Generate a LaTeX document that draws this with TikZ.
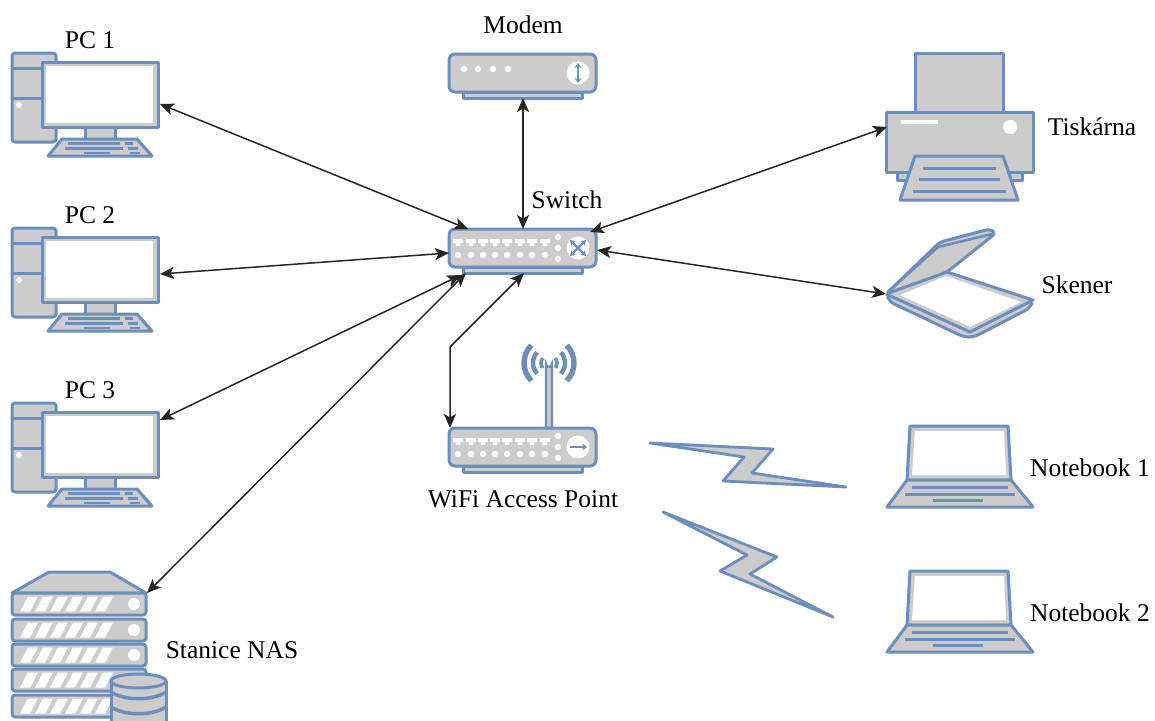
\documentclass[tikz,border=0pt]{standalone}
\usepackage{fontspec}
\setmainfont{Liberation Serif}
\usetikzlibrary{arrows.meta}
\definecolor{iconblue}{HTML}{6C8EBF}
\definecolor{icongray}{HTML}{CCCCCC}
\tikzset{
  x=1pt,y=-1pt,
  ico/.style={draw=iconblue,fill=icongray,line width=3pt,line join=round},
  icoline/.style={draw=iconblue,line width=3pt,line cap=round},
  lbl/.style={font=\fontsize{25.5}{30}\selectfont,text=black,inner sep=0pt},
  link/.style={draw=black!85,line width=1.5pt,{Stealth[length=14pt,width=12pt,inset=3.5pt]}-{Stealth[length=14pt,width=12pt,inset=3.5pt]}},
  pcicon/.pic={
    \draw[ico,rounded corners=3pt] (12,53) rectangle (56,142);
    \draw[icoline] (12,68)--(42,68) (12,98)--(42,98);
    \fill[white] (19,105) circle (3);
    \draw[ico] (85,127) rectangle (115,139);
    \draw[ico] (62,139)--(137,139)--(152,156)--(48,156)--cycle;
    \draw[iconblue,line width=2.4pt] (68,143.5)--(120,143.5) (125,143.5)--(133,143.5)
      (65,148.5)--(123,148.5) (128,148.5)--(138,148.5)
      (84,153)--(110,153) (130,153)--(140,153);
    \draw[ico] (42,62) rectangle (158,127);
    \fill[white] (46,66) rectangle (153,122.5);
  },
  boxbody/.pic={
    \draw[ico] (14,38) rectangle (133,44);
    \draw[ico,rounded corners=6pt] (0,0) rectangle (147,38);
  },
  portrow/.pic={
    \foreach \px in {9,22,34,46,58,71,83,96}{
      \fill[white] (\px-5,10) -- (\px+5,10) -- (\px+5,14) -- (\px+2.5,14) -- (\px+2,17) -- (\px-2,17) -- (\px-2.5,14) -- (\px-5,14) -- cycle;
      \fill[white] (\px,26) circle (3.2);
    }
    \fill[white] (109,8) circle (3.2) (109,19) circle (3.2) (109,30) circle (3.2);
    \fill[white] (129,19) circle (11.5);
  },
  laptopicon/.pic={
    \draw[ico] (910,426)--(1008,426)--(1011,480)--(907,480)--cycle;
    \fill[white] (915,431)--(1004,431)--(1006,475)--(912,475)--cycle;
    \draw[ico] (907,480)--(1011,480)--(1033,507)--(887,507)--cycle;
    \draw[iconblue,line width=3pt] (912,487)--(1008,487) (905,494)--(1015,494) (933,500.5)--(983,500.5);
  },
  nasunit/.pic={
    \draw[ico,rounded corners=3pt] (12,0) rectangle (146,22);
    \foreach \sx in {20,35,50,65,80,95}{
      \fill[white] (\sx,18.5)--(\sx+8,3.5)--(\sx+18,3.5)--(\sx+10,18.5)--cycle;
    }
  },
  nasdot/.pic={\fill[white] (134,11) circle (6);}
}
\begin{document}
\begin{tikzpicture}
\useasboundingbox (0,0) rectangle (1155,720);
\fill[white] (0,0) rectangle (1155,720);

% PCs
\pic at (0,0) {pcicon};
\pic at (0,175) {pcicon};
\pic at (0,350) {pcicon};

% NAS
\draw[ico] (12,593)--(49,572)--(110,572)--(146,593)--cycle;
\pic at (0,593) {nasunit};
\pic at (0,593) {nasdot};
\pic at (0,619) {nasunit};
\pic at (0,619) {nasdot};
\pic at (0,644) {nasunit};
\pic at (0,644) {nasdot};
\pic at (0,669) {nasunit};
\pic at (0,695) {nasunit};
\begin{scope}
  \clip (0,0) rectangle (1155,720);
  \draw[ico] (111,681) -- (111,730) -- (166,730) -- (166,681);
  \draw[ico] (138.5,681) ellipse [x radius=27.5,y radius=7];
  \draw[icoline,line width=3.5pt] (111,692) .. controls (125,701) and (152,701) .. (166,692);
  \draw[icoline,line width=3.5pt] (111,707) .. controls (125,716) and (152,716) .. (166,707);
\end{scope}

% Modem
\pic at (449,54) {boxbody};
\fill[white] (464,69) circle (3.2) (478,69) circle (3.2) (493,69) circle (3.2) (508,69) circle (3.2);
\fill[white] (578,73) circle (11.5);
\draw[iconblue,line width=2.6pt,{Stealth[length=5pt,width=7pt]}-{Stealth[length=5pt,width=7pt]}] (578,63)--(578,83);

% Switch
\pic at (449,229) {boxbody};
\pic at (449,229) {portrow};
\draw[iconblue,line width=2.2pt,{Stealth[length=5pt,width=6pt]}-{Stealth[length=5pt,width=6pt]}] (570,240)--(586,256);
\draw[iconblue,line width=2.2pt,{Stealth[length=5pt,width=6pt]}-{Stealth[length=5pt,width=6pt]}] (586,240)--(570,256);

% Access point
\draw[draw=iconblue,fill=icongray,line width=2.4pt] (546,428) -- (546,364) arc[start angle=180,end angle=0,radius=3] -- (552,428) -- cycle;
\foreach \rad/\wid/\spn in {8/3.6/38,16/4.4/42,25/5.4/45}{
  \draw[iconblue,line width=\wid pt] (549,363) ++(\spn:\rad) arc[start angle=\spn,end angle=-\spn,radius=\rad];
  \draw[iconblue,line width=\wid pt] (549,363) ++(180-\spn:\rad) arc[start angle=180-\spn,end angle=180+\spn,radius=\rad];
}
\pic at (449,428) {boxbody};
\pic at (449,428) {portrow};
\draw[iconblue,line width=2.6pt,-{Stealth[length=5pt,width=7pt]}] (570,447)--(587,447);

% Printer
\draw[ico] (915,53) rectangle (1003,112);
\draw[ico] (897,172) rectangle (1022,180);
\draw[ico] (886,112) rectangle (1033,172);
\fill[white] (901,120) rectangle (938,124);
\fill[white] (1010,127) circle (7);
\draw[ico] (915,156)--(1003,156)--(1018,200)--(900,200)--cycle;
\draw[iconblue,line width=3pt] (923,168)--(996,168) (919,179.5)--(1000,179.5) (913,191)--(1006,191);

% Scanner
\draw[ico,rounded corners=5pt] (886,294)--(890,302)--(964,337)--(974,337)--(1030,308)--(1033,300)--cycle;
\fill[icongray] (886,294)--(947,272)--(1033,300)--(970,332)--cycle;
\fill[white] (900,295)--(946,276)--(1021,302)--(970,327)--cycle;
\draw[iconblue,line width=3pt,line join=round] (886,294)--(970,332)--(1033,300)--(947,272);
\draw[ico,rounded corners=4pt] (886,294)--(940,242)--(990,229)--(996,233)--(947,272)--cycle;
\draw[iconblue,line width=2.6pt,line join=round] (889,291)--(938,247)--(992,234);

% Lightning bolts
\draw[ico,miter limit=20,line width=2.8pt] (650,443)--(773,449)--(752,473)--(846,487)--(723,481)--(744,457)--cycle;
\draw[ico,miter limit=20,line width=2.8pt] (663,512)--(777,557)--(750,574)--(833,617)--(720,571)--(747,555)--cycle;

% Notebooks
\pic at (0,0) {laptopicon};
\pic at (0,145) {laptopicon};

% Connector ends
\coordinate (pc1port) at (160,104);
\coordinate (pc2port) at (160,274);
\coordinate (pc3port) at (160,420);
\coordinate (nasport) at (147,593);
\coordinate (modemport) at (523,98);
\coordinate (printerport) at (887,127);
\coordinate (scannerport) at (886,294);
\coordinate (appport) at (450,428);
\coordinate (apbend) at (450,347);
\coordinate (swpc1) at (468,229);
\coordinate (swpc2) at (449,253);
\coordinate (swpc3) at (461,275);
\coordinate (swnas) at (466,273);
\coordinate (swtop) at (523,229);
\coordinate (swprinter) at (590,232);
\coordinate (swscanner) at (597,250);
\coordinate (swap) at (524,273);

\draw[link] (pc1port) -- (swpc1);
\draw[link] (pc2port) -- (swpc2);
\draw[link] (pc3port) -- (swpc3);
\draw[link] (nasport) -- (swnas);
\draw[link] (modemport) -- (swtop);
\draw[link] (printerport) -- (swprinter);
\draw[link] (scannerport) -- (swscanner);
\draw[link] (appport) -- (apbend) -- (swap);

% Labels
\node[lbl] (lpc1) at (90,40) {PC 1};
\node[lbl] (lpc2) at (90,215) {PC 2};
\node[lbl] (lpc3) at (90,390) {PC 3};
\node[lbl] (lmodem) at (523,25) {Modem};
\node[lbl] (lswitch) at (567,200) {Switch};
\node[lbl] (lprinter) at (1092,127) {Tiskárna};
\node[lbl] (lscanner) at (1077,285) {Skener};
\node[lbl] (lap) at (523,499) {WiFi Access Point};
\node[lbl] (lnb1) at (1090,468) {Notebook 1};
\node[lbl] (lnb2) at (1090,613) {Notebook 2};
\node[lbl] (lnas) at (232,650) {Stanice NAS};
\end{tikzpicture}
\end{document}
